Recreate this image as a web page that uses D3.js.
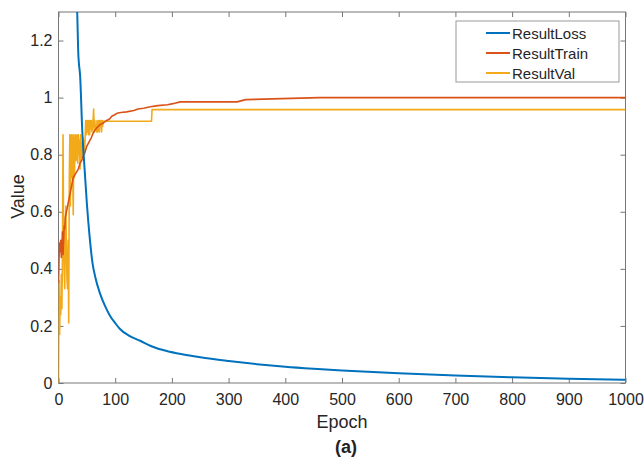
<!DOCTYPE html>
<html><head><meta charset="utf-8">
<script src="https://cdn.jsdelivr.net/npm/d3@7"></script>
<style>body{margin:0;background:#fff}svg{display:block}text{font-family:"Liberation Sans",Arial,sans-serif}</style>
</head><body><svg id="c" width="644" height="464"></svg>
<script>
// ---- data ----
const xTicks = [0,100,200,300,400,500,600,700,800,900,1000];
const yTicks = [0,0.2,0.4,0.6,0.8,1,1.2];
const seriesNames = ["ResultLoss","ResultTrain","ResultVal"];
const lossEpochs = [1,10,20,25,30,33,35,36,38,42,46,50,55,60,65,73,82,91,100,108,125,144,165,191,220,250,300,350,400,450,500,600,700,800,900,1000];
const lossValues = [3.2,2.6,2.0,1.7,1.45,1.30,1.15,1.12,1.08,0.88,0.75,0.63,0.51,0.42,0.37,0.315,0.27,0.235,0.21,0.19,0.165,0.148,0.128,0.112,0.1,0.09,0.077,0.066,0.057,0.05,0.044,0.034,0.026,0.02,0.015,0.011];
const trainEpochs = [0,1,2,3,4,5,6,7,8,9,10,11,12,14,16,18,20,23,26,29,32,35,38,41,44,47,50,54,58,61,64,68,73,78,85,90,94,99,103,110,120,133,140,150,162,175,192,200,205,215,315,330,460,1000];
const trainValues = [0.35,0.44,0.49,0.46,0.50,0.44,0.47,0.53,0.45,0.50,0.55,0.54,0.58,0.60,0.62,0.64,0.66,0.69,0.72,0.73,0.74,0.75,0.77,0.78,0.80,0.81,0.83,0.845,0.86,0.875,0.885,0.895,0.905,0.91,0.92,0.925,0.935,0.94,0.945,0.948,0.95,0.955,0.96,0.963,0.968,0.972,0.975,0.978,0.98,0.985,0.985,0.993,1.0,1.0];
const valEpochs = [0,1,2,3,4,5,6,7,8,9,10,11,12,13,14,15,16,17,18,19,20,21,22,23,24,25,26,27,28,29,30,31,32,33,34,35,36,37,38,39,40,41,42,43,44,45,46,47,48,49,50,51,52,53,54,55,56,57,58,59,60,61,62,63,64,65,66,67,68,69,70,71,72,73,74,75,76,77,78,79,80,81,82,164,165,1000];
const valValues = [0,0.36,0.17,0.30,0.24,0.38,0.26,0.45,0.87,0.50,0.40,0.33,0.55,0.62,0.45,0.36,0.33,0.50,0.21,0.70,0.87,0.62,0.87,0.72,0.87,0.75,0.59,0.87,0.72,0.80,0.87,0.78,0.84,0.87,0.77,0.87,0.80,0.85,0.75,0.87,0.79,0.84,0.80,0.86,0.82,0.85,0.80,0.86,0.92,0.87,0.92,0.88,0.92,0.87,0.92,0.87,0.92,0.89,0.92,0.88,0.90,0.92,0.96,0.88,0.92,0.89,0.90,0.88,0.92,0.88,0.90,0.92,0.88,0.92,0.90,0.92,0.88,0.92,0.90,0.917,0.917,0.917,0.917,0.917,0.958,0.958];

const colors = ["#0072BD","#D95319","#F2AA1A"];
const svg = d3.select("#c");
const L=58.5,R=625.5,T=12,B=383;
const x = d3.scaleLinear().domain([0,1000]).range([L,R]);
const y = d3.scaleLinear().domain([0,1.3]).range([B,T]);

svg.append("defs").append("clipPath").attr("id","clip").append("rect")
  .attr("x",L).attr("y",T).attr("width",R-L).attr("height",B-T);

const axCol="#777", txtCol="#262626";
// axes
const gx = svg.append("g").attr("transform",`translate(0,${B})`)
  .call(d3.axisBottom(x).tickValues(xTicks).tickSize(-5).tickPadding(11).tickFormat(d3.format("d")));
const gxt = svg.append("g").attr("transform",`translate(0,${T})`)
  .call(d3.axisTop(x).tickValues(xTicks).tickSize(-5).tickFormat(""));
const gy = svg.append("g").attr("transform",`translate(${L},0)`)
  .call(d3.axisLeft(y).tickValues(yTicks).tickSize(-5).tickPadding(6).tickFormat(d=>String(+d.toFixed(1))));
const gyr = svg.append("g").attr("transform",`translate(${R},0)`)
  .call(d3.axisRight(y).tickValues(yTicks).tickSize(-5).tickFormat(""));
[gx,gxt,gy,gyr].forEach(g=>{
  g.select(".domain").remove();
  g.selectAll("line").attr("stroke",axCol);
  g.selectAll("text").attr("fill",txtCol).style("font-size","16px").style("font-family","'Liberation Sans',Arial,sans-serif");
});
svg.append("rect").attr("x",L).attr("y",T).attr("width",R-L).attr("height",B-T)
  .attr("fill","none").attr("stroke",axCol).attr("stroke-width",1);

// lines
const line = d3.line().x(d=>x(d[0])).y(d=>y(d[1]));
const data = [
  d3.zip(lossEpochs,lossValues),
  d3.zip(trainEpochs,trainValues),
  d3.zip(valEpochs,valValues)
];
const g = svg.append("g").attr("clip-path","url(#clip)");
[2,1,0].forEach(i=>{
  g.append("path").datum(data[i]).attr("d",line.curve(i===0?d3.curveMonotoneX:d3.curveLinear))
   .attr("fill","none").attr("stroke",colors[i]).attr("stroke-width",i===0?2:1.6).attr("stroke-linejoin","round");
});

// labels
svg.append("text").attr("x",342).attr("y",428).attr("text-anchor","middle")
  .attr("fill",txtCol).style("font-size","18px").text("Epoch");
svg.append("text").attr("transform",`translate(24,196.5) rotate(-90)`).attr("text-anchor","middle")
  .attr("fill",txtCol).style("font-size","18px").text("Value");
svg.append("text").attr("x",346).attr("y",453).attr("text-anchor","middle")
  .attr("fill","#222").style("font-size","18px").style("font-weight","bold").text("(a)");

// legend
const lg = svg.append("g");
lg.append("rect").attr("x",456).attr("y",21).attr("width",163).attr("height",61)
  .attr("fill","#fff").attr("stroke","#999");
seriesNames.forEach((n,i)=>{
  const yy = 33 + i*20;
  lg.append("line").attr("x1",486).attr("x2",510).attr("y1",yy).attr("y2",yy)
    .attr("stroke",colors[i]).attr("stroke-width",2);
  lg.append("text").attr("x",512).attr("y",yy+5.5).attr("fill",txtCol).style("font-size","15px").text(n);
});
</script></body></html>
